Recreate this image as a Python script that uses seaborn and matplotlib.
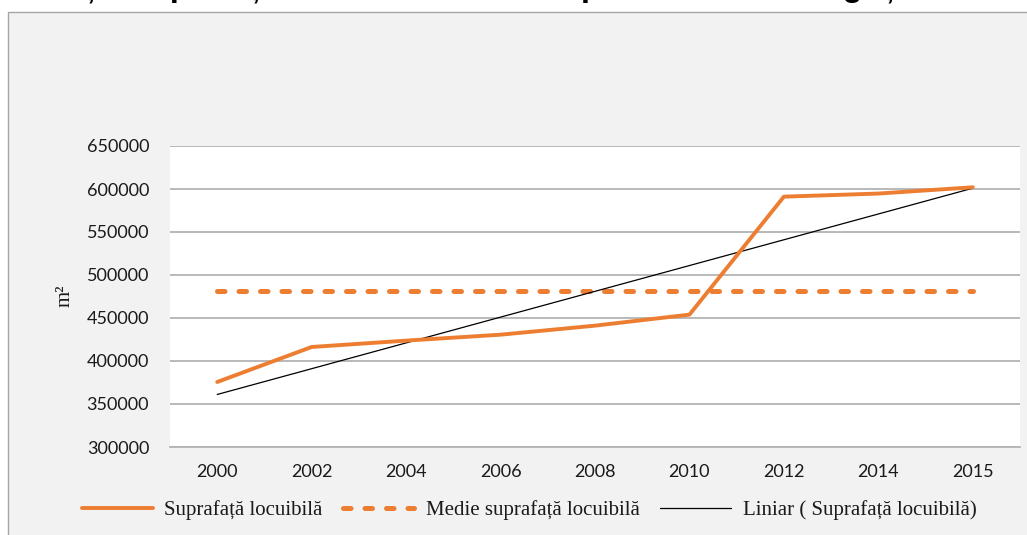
import numpy as np
import pandas as pd
import matplotlib
matplotlib.use("Agg")
import matplotlib.pyplot as plt
from matplotlib.patches import Rectangle
from matplotlib.lines import Line2D
import seaborn as sns

# ---- data ----
years = ["2000", "2002", "2004", "2006", "2008", "2010", "2012", "2014", "2015"]
surface = [375600, 416300, 423700, 430600, 441100, 453900, 591100, 594700, 602000]
y_ticks = [300000, 350000, 400000, 450000, 500000, 550000, 600000, 650000]
series_name = "Suprafață locuibilă"
mean_name = "Medie suprafață locuibilă"
trend_name = "Liniar ( Suprafață locuibilă)"
title_text = "Evoluția suprafeței locuibile în municipiul Curtea de Argeș"
y_label = "m²"

ORANGE = "#ED7D31"
GRID = "#b3b3b3"

sns.set_theme(style="white")
plt.rcParams["font.family"] = ["Lato", "DejaVu Sans"]

fig = plt.figure(figsize=(10.27, 5.35), dpi=100)
fig.patch.set_facecolor("white")

# chart area background (gray box, border visible on left/top)
fig.patches.append(Rectangle((8 / 1027, -0.02), 1.1, (535 - 12) / 535 + 0.02,
                             transform=fig.transFigure, facecolor="#f2f2f2",
                             edgecolor="#a6a6a6", linewidth=1.0, zorder=0))

# title, clipped by the top edge as in the reference
fig.text(-0.004, (535 + 4.5) / 535, title_text, ha="left", va="baseline",
         fontsize=23.5, fontweight="bold", family=["Liberation Sans", "DejaVu Sans"],
         color="black", zorder=1)

ax = fig.add_axes([170 / 1027, (535 - 447) / 535, 850 / 1027, 301 / 535])
ax.set_facecolor("white")
ax.set_zorder(2)

idx = np.arange(len(years))
df = pd.DataFrame({"idx": idx, "value": surface})
mean_val = float(np.mean(surface))
coef = np.polyfit(idx, np.array(surface, dtype=float), 1)
df["mean"] = mean_val
df["trend"] = np.polyval(coef, idx)

sns.lineplot(data=df, x="idx", y="mean", ax=ax, color=ORANGE, linewidth=3.6,
             dashes=False, zorder=3)
mean_line = ax.lines[-1]
mean_line.set_linestyle((0, (1.5, 2.8)))
mean_line.set_dash_capstyle("round")

sns.lineplot(data=df, x="idx", y="trend", ax=ax, color="black", linewidth=0.9, zorder=4)
sns.lineplot(data=df, x="idx", y="value", ax=ax, color=ORANGE, linewidth=2.8, zorder=5)

ax.set_xlim(-0.5, len(years) - 0.5)
ax.set_ylim(y_ticks[0], y_ticks[-1])
ax.set_yticks(y_ticks)
ax.set_yticklabels([str(v) for v in y_ticks])
ax.set_xticks(idx)
ax.set_xticklabels(years)
ax.grid(axis="y", color=GRID, linewidth=1.3)
ax.grid(axis="x", visible=False)
for s in ["top", "right", "left"]:
    ax.spines[s].set_visible(False)
ax.spines["bottom"].set_color(GRID)
ax.spines["bottom"].set_linewidth(1.3)
ax.tick_params(axis="y", length=0, pad=15, labelsize=13, colors="#1a1a1a")
ax.tick_params(axis="x", length=0, pad=12, labelsize=13, colors="#1a1a1a")
ax.set_xlabel("")
ax.set_ylabel("")

fig.text(65 / 1027, (535 - 296) / 535, y_label, rotation=90, ha="center", va="center",
         fontsize=15, family=["Liberation Serif", "DejaVu Serif"], color="#1a1a1a")

handles = [
    Line2D([], [], color=ORANGE, linewidth=2.8),
    Line2D([], [], color=ORANGE, linewidth=3.6, linestyle=(0, (1.5, 2.8)),
           dash_capstyle="round"),
    Line2D([], [], color="black", linewidth=0.9),
]
leg = fig.legend(handles, [series_name, mean_name, trend_name], loc="center",
                 bbox_to_anchor=(529 / 1027, 25 / 535), ncol=3, frameon=False,
                 handlelength=3.4, handletextpad=0.55, columnspacing=1.0,
                 prop={"family": ["Liberation Serif", "DejaVu Serif"], "size": 15})
for t in leg.get_texts():
    t.set_color("#1a1a1a")

fig.savefig("out.png", dpi=100, facecolor=fig.get_facecolor())
